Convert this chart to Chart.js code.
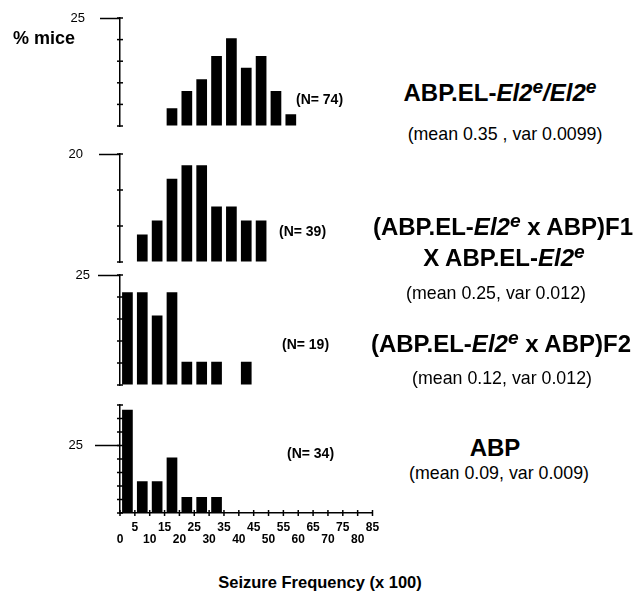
<!DOCTYPE html>
<html lang="en">
<head>
    <meta charset="UTF-8">
    <title>Seizure frequency</title>
    <script src="https://cdn.jsdelivr.net/npm/chart.js"></script>
    <style>
        body { margin: 0; background: #fff; font-family: "Liberation Sans", Arial, sans-serif; color: #000; }
        #wrap { position: relative; width: 634px; height: 598px; overflow: hidden; }
        canvas { position: absolute; left: 0; }
        .t { position: absolute; white-space: nowrap; line-height: 1; transform: translateX(-50%); }
        .big { font-size: 24px; font-weight: bold; }
        .stat { font-size: 17.8px; }
        .n { position: absolute; white-space: nowrap; line-height: 1; font-size: 14px; font-weight: bold; }
        .sup { position: relative; top: -0.42em; font-size: 0.8em; font-style: italic; }
    </style>
</head>
<body>
<div id="wrap">
    <canvas id="p1"></canvas>
    <canvas id="p2"></canvas>
    <canvas id="p3"></canvas>
    <canvas id="p4"></canvas>

    <div class="n" style="left:13px; top:29px; font-size:18px;">% mice</div>

    <div class="n" style="left:296px; top:92px;">(N= 74)</div>
    <div class="n" style="left:279px; top:224px;">(N= 39)</div>
    <div class="n" style="left:282px; top:337px;">(N= 19)</div>
    <div class="n" style="left:287px; top:446px;">(N= 34)</div>

    <div class="t big" style="left:500px; top:81px;">ABP.EL-<i>El2</i><span class="sup">e</span><i>/El2</i><span class="sup">e</span></div>
    <div class="t stat" style="left:505px; top:126px;">(mean 0.35 , var 0.0099)</div>

    <div class="t big" style="left:503px; top:215px;">(ABP.EL-<i>El2</i><span class="sup">e</span> x ABP)F1</div>
    <div class="t big" style="left:504px; top:246px;">X ABP.EL-<i>El2</i><span class="sup">e</span></div>
    <div class="t stat" style="left:496px; top:285px;">(mean 0.25, var 0.012)</div>

    <div class="t big" style="left:501px; top:332px;">(ABP.EL-<i>El2</i><span class="sup">e</span> x ABP)F2</div>
    <div class="t stat" style="left:502px; top:370px;">(mean 0.12, var 0.012)</div>

    <div class="t big" style="left:495px; top:436px;">ABP</div>
    <div class="t stat" style="left:499px; top:465px;">(mean 0.09, var 0.009)</div>

    <div class="t" style="left:320px; top:574px; font-size:16.5px; font-weight:bold;">Seizure Frequency (x 100)</div>
</div>

<script>
    // bins are the left edge of each 5-wide class (seizure frequency x 100), values are % of mice
    var homBins = [15, 20, 25, 30, 35, 40, 45, 50, 55]
    var homPct = [4.1, 8.1, 10.8, 16.2, 20.3, 13.5, 16.2, 8.1, 2.7]

    var bcBins = [5, 10, 15, 20, 25, 30, 35, 40, 45]
    var bcPct = [5.1, 7.7, 15.4, 17.9, 17.9, 10.3, 10.3, 7.7, 7.7]

    var f2Bins = [0, 5, 10, 15, 20, 25, 30, 40]
    var f2Pct = [21.1, 21.1, 15.8, 21.1, 5.3, 5.3, 5.3, 5.3]

    var abpBins = [0, 5, 10, 15, 20, 25, 30]
    var abpPct = [38.2, 11.8, 11.8, 20.6, 5.9, 5.9, 5.9]

    var xMax = 85
    var binWidth = 5

    Chart.defaults.font.family = '"Liberation Sans", Arial, sans-serif'
    Chart.defaults.color = '#000'

    // short marks crossing the axis lines at every tick
    var crossTicks = {
        id: 'crossTicks',
        afterDraw(chart) {
            var ctx = chart.ctx
            var area = chart.chartArea
            ctx.save()
            ctx.strokeStyle = '#000'
            ctx.lineWidth = 1.5
            var y = chart.scales.y
            y.ticks.forEach(function (t) {
                var py = y.getPixelForValue(t.value)
                ctx.beginPath()
                ctx.moveTo(area.left - 3, py)
                ctx.lineTo(area.left + 3, py)
                ctx.stroke()
            })
            var x = chart.scales.x
            if (x.options.display) {
                x.ticks.forEach(function (t) {
                    var px = x.getPixelForValue(t.value)
                    ctx.beginPath()
                    ctx.moveTo(px, area.bottom - 3)
                    ctx.lineTo(px, area.bottom + 3)
                    ctx.stroke()
                })
            }
            ctx.restore()
        }
    }

    var panels = [
        {id: 'p1', bins: homBins, pct: homPct, max: 25, count: 6, label: 25, tickLen: 20, labelPad: 15, top: 0, height: 140, padTop: 18, padBottom: 14, showX: false},
        {id: 'p2', bins: bcBins, pct: bcPct, max: 20, count: 4, label: 20, tickLen: 21, labelPad: 16, top: 140, height: 135, padTop: 14, padBottom: 13, showX: false},
        {id: 'p3', bins: f2Bins, pct: f2Pct, max: 25, count: 6, label: 25, tickLen: 22, labelPad: 8, top: 262, height: 135, padTop: 13, padBottom: 12, showX: false},
        {id: 'p4', bins: abpBins, pct: abpPct, max: 40, count: 9, label: 25, tickLen: 25, labelPad: 12, top: 395, height: 170, padTop: 10, padBottom: 12, showX: true}
    ]

    panels.forEach(function (p) {
        var canvas = document.getElementById(p.id)
        canvas.style.top = p.top + 'px'
        canvas.style.width = '400px'
        canvas.style.height = p.height + 'px'
        canvas.width = 400
        canvas.height = p.height

        var isLabel = function (v) { return Math.abs(v - p.label) < 1e-6 }

        new Chart(canvas, {
            type: 'bar',
            data: {
                datasets: [{
                    data: p.bins.map(function (b, i) { return {x: b + binWidth / 2, y: p.pct[i]} }),
                    backgroundColor: '#000',
                    borderWidth: 0,
                    categoryPercentage: 1,
                    barPercentage: 0.72
                }]
            },
            options: {
                responsive: false,
                animation: false,
                layout: {padding: {top: p.padTop, bottom: p.padBottom, left: 0, right: 27.5}},
                plugins: {legend: {display: false}, tooltip: {enabled: false}},
                scales: {
                    x: {
                        type: 'linear',
                        min: 0,
                        max: xMax,
                        offset: false,
                        display: p.showX,
                        grid: {display: true, offset: false, drawOnChartArea: false, drawTicks: false},
                        border: {display: true, color: '#000', width: 1.5},
                        ticks: {
                            stepSize: binWidth,
                            autoSkip: false,
                            maxRotation: 0,
                            padding: 8,
                            font: {size: 12, weight: 'bold', lineHeight: 1.05},
                            callback: function (v) {
                                return (v / binWidth) % 2 === 1 ? [String(v), ''] : ['', String(v)]
                            }
                        },
                        afterFit: function (s) { if (p.showX) s.height = 40 }
                    },
                    y: {
                        min: 0,
                        max: p.max,
                        grid: {
                            drawOnChartArea: false,
                            drawTicks: true,
                            tickLength: p.tickLen,
                            tickWidth: 1.5,
                            tickColor: function (c) { return c.tick && isLabel(c.tick.value) ? '#000' : 'rgba(0,0,0,0)' }
                        },
                        border: {display: true, color: '#000', width: 1.5},
                        ticks: {
                            count: p.count,
                            autoSkip: false,
                            padding: p.labelPad,
                            font: {size: 13},
                            callback: function (v) { return isLabel(v) ? String(p.label) : '' }
                        },
                        afterFit: function (s) {
                            s.width = 120
                            s.paddingTop = 0
                            s.paddingBottom = 0
                        }
                    }
                }
            },
            plugins: [crossTicks]
        })
    })
</script>
</body>
</html>
